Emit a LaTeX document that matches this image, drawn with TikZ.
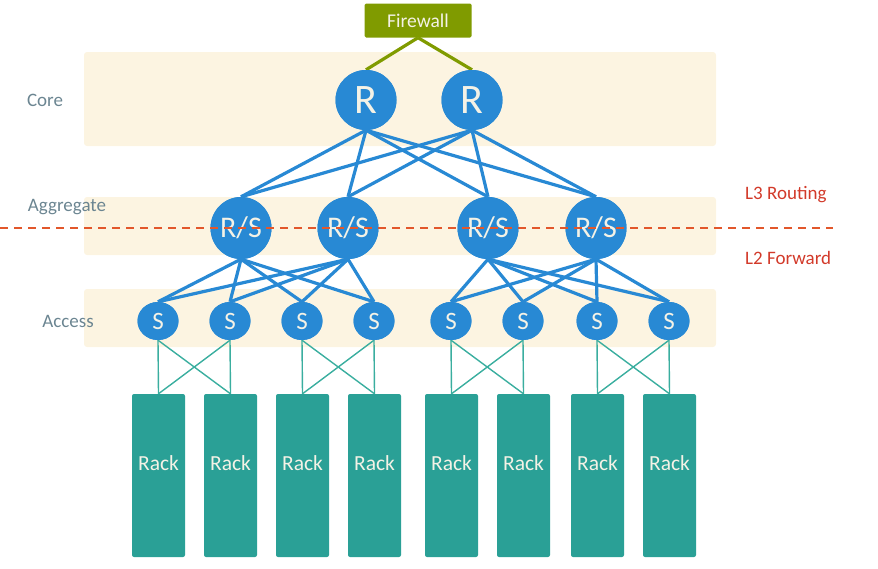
\documentclass[tikz,border=0pt]{standalone}
\usepackage{fontspec}
\setmainfont{Carlito}
\usetikzlibrary{shapes.geometric}
\definecolor{band}{HTML}{FCF4E1}
\definecolor{netblue}{HTML}{2889D4}
\definecolor{rackteal}{HTML}{2AA096}
\definecolor{linkteal}{HTML}{3AAE9F}
\definecolor{fwolive}{HTML}{809B00}
\definecolor{layergray}{HTML}{6B8591}
\definecolor{layerred}{HTML}{D23A2A}
\definecolor{dashorange}{HTML}{E2572B}
\definecolor{nodetext}{HTML}{F4F2E6}
\begin{document}
\begin{tikzpicture}[x=1pt,y=-1pt,
  bandbox/.style={fill=band,draw=none,rounded corners=3pt},
  corenode/.style={ellipse,fill=netblue,draw=none,minimum width=61pt,minimum height=60pt,inner sep=0pt,text=nodetext,font=\fontsize{42}{42}\selectfont},
  aggnode/.style={ellipse,fill=netblue,draw=none,minimum width=61pt,minimum height=62pt,inner sep=0pt,text=nodetext,font=\fontsize{30}{30}\selectfont},
  accnode/.style={ellipse,fill=netblue,draw=none,minimum width=41pt,minimum height=38pt,inner sep=0pt,text=nodetext,font=\fontsize{25}{25}\selectfont},
  racknode/.style={rectangle,fill=rackteal,draw=none,rounded corners=2pt,minimum width=53pt,minimum height=163pt,inner sep=0pt,text=nodetext,font=\fontsize{21.5}{21.5}\selectfont},
  fwnode/.style={rectangle,fill=fwolive,draw=none,rounded corners=1.5pt,minimum width=107pt,minimum height=34pt,inner sep=0pt,text=nodetext,font=\fontsize{19.5}{19.5}\selectfont},
  layerlabel/.style={text=layergray,font=\fontsize{19}{19}\selectfont,inner sep=0pt},
  l3label/.style={text=layerred,font=\fontsize{19}{19}\selectfont,inner sep=0pt,anchor=west},
  bluelink/.style={draw=netblue,line width=3.2pt},
  fwlink/.style={draw=fwolive,line width=3.2pt},
  racklink/.style={draw=linkteal,line width=1.4pt},
  boundary/.style={draw=dashorange,line width=1.9pt,dash pattern=on 8pt off 6pt}
]
\useasboundingbox (0,0) rectangle (878,568);
% bands
\fill[bandbox] (84,52) rectangle (716,146);
\fill[bandbox] (84,197) rectangle (716,255);
\fill[bandbox] (84,289) rectangle (716,347);
% layer labels
\node[layerlabel] (lcore) at (45,100) {Core};
\node[layerlabel] (lagg) at (67,207) {Aggregate};
\node[layerlabel] (lacc) at (68,321) {Access};
\node[l3label] (l3) at (745,195) {L3 Routing};
\node[l3label] (l2) at (745,258) {L2 Forward};
% nodes
\node[fwnode] (fw) at (418,20.5) {Firewall};
\node[corenode] (r1) at (366,100) {R};
\node[corenode] (r2) at (472,100) {R};
\node[aggnode] (a1) at (241,228) {R/S};
\node[aggnode] (a2) at (348,228) {R/S};
\node[aggnode] (a3) at (488,228) {R/S};
\node[aggnode] (a4) at (596,228) {R/S};
\foreach \i/\x in {1/158,2/230,3/302,4/374,5/451,6/523,7/597,8/669}{
  \node[accnode] (s\i) at (\x,321) {S};
  \node[racknode] (k\i) at (\x+0.5,475.5) {\raisebox{24pt}{Rack}};
}
% links
\draw[fwlink] (fw.south) -- (r1.north);
\draw[fwlink] (fw.south) -- (r2.north);
\foreach \r in {r1,r2}{
  \foreach \a in {a1,a2,a3,a4}{
    \draw[bluelink] (\r.south) -- (\a.north);
  }
}
\foreach \a in {a1,a2}{
  \foreach \s in {s1,s2,s3,s4}{
    \draw[bluelink] (\a.south) -- (\s.north);
  }
}
\foreach \a in {a3,a4}{
  \foreach \s in {s5,s6,s7,s8}{
    \draw[bluelink] (\a.south) -- (\s.north);
  }
}
\foreach \p/\q in {1/2,3/4,5/6,7/8}{
  \draw[racklink] (s\p.south) -- (k\p.north);
  \draw[racklink] (s\p.south) -- (k\q.north);
  \draw[racklink] (s\q.south) -- (k\p.north);
  \draw[racklink] (s\q.south) -- (k\q.north);
}
% redraw nodes on top of links
\node[corenode] at (r1) {R};
\node[corenode] at (r2) {R};
\node[aggnode] at (a1) {R/S};
\node[aggnode] at (a2) {R/S};
\node[aggnode] at (a3) {R/S};
\node[aggnode] at (a4) {R/S};
\foreach \i in {1,...,8}{\node[accnode] at (s\i) {S};}
% L3/L2 boundary
\coordinate (dl) at (0,228);
\coordinate (dr) at (833,228);
\draw[boundary] (dl) -- (dr);
\end{tikzpicture}
\end{document}
